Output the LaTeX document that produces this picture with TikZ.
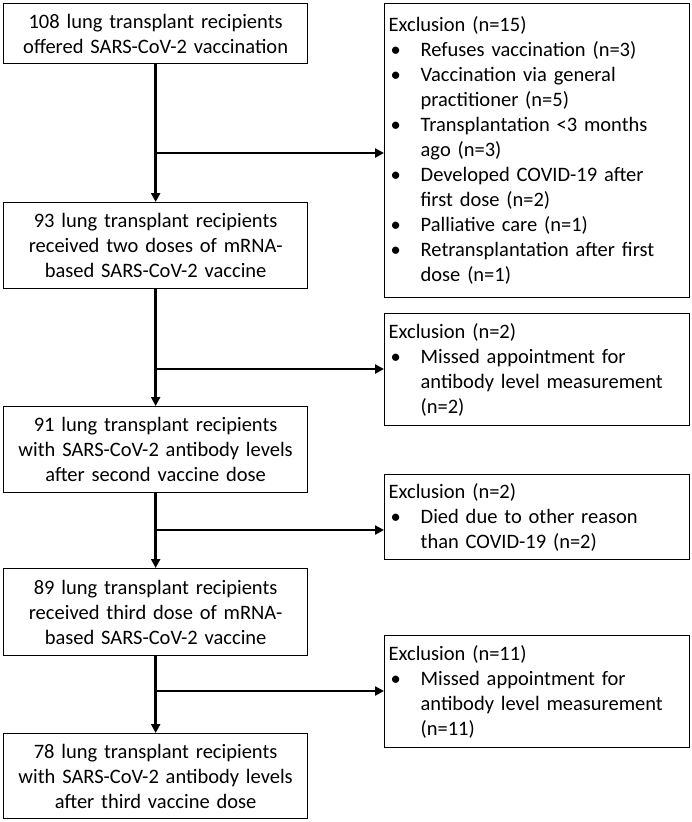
\documentclass[tikz,border=0pt]{standalone}
\usepackage{fontspec}
\setmainfont{Carlito}
\usetikzlibrary{arrows.meta}

\tikzset{
  stagebox/.style={draw, line width=1.3pt, anchor=north west, minimum width=304pt,
    text width=296pt, align=center, inner sep=4pt, font=\fontsize{20.5}{25}\selectfont},
  exclbox/.style={draw, line width=1.3pt, anchor=north west, minimum width=305pt,
    text width=297pt, align=left, inner sep=4pt, font=\fontsize{20.5}{25}\selectfont},
  flow/.style={line width=2.4pt, -{Triangle[length=9pt,width=9pt]}},
}
\newcommand{\exitem}[1]{\par\hangindent=32pt\hangafter=1\noindent\makebox[32pt][l]{\hspace{2pt}\textbullet}#1\par}

\begin{document}
\begin{tikzpicture}[x=1pt,y=-1pt]
\useasboundingbox (0,0) rectangle (692,822);

% main flow
\node (s1) at (3,3) [stagebox,minimum height=60pt] {108 lung transplant recipients\\offered SARS-CoV-2 vaccination};
\node (s2) at (3,202) [stagebox,minimum height=86pt] {93 lung transplant recipients\\received two doses of mRNA-\\based SARS-CoV-2 vaccine};
\node (s3) at (3,406) [stagebox,minimum height=86pt] {91 lung transplant recipients\\with SARS-CoV-2 antibody levels\\after second vaccine dose};
\node (s4) at (3,568) [stagebox,minimum height=87pt] {89 lung transplant recipients\\received third dose of mRNA-\\based SARS-CoV-2 vaccine};
\node (s5) at (3,733) [stagebox,minimum height=85pt] {78 lung transplant recipients\\with SARS-CoV-2 antibody levels\\after third vaccine dose};

% exclusions
\node (x1) at (384,3) [exclbox,minimum height=294pt] {Exclusion (n=15)
  \exitem{Refuses vaccination (n=3)}
  \exitem{Vaccination via general\newline practitioner (n=5)}
  \exitem{Transplantation <3 months\newline ago (n=3)}
  \exitem{Developed COVID-19 after\newline first dose (n=2)}
  \exitem{Palliative care (n=1)}
  \exitem{Retransplantation after first\newline dose (n=1)}};
\node (x2) at (384,313) [exclbox,minimum height=112pt] {Exclusion (n=2)
  \exitem{Missed appointment for\newline antibody level measurement\newline (n=2)}};
\node (x3) at (384,474) [exclbox,minimum height=85pt] {Exclusion (n=2)
  \exitem{Died due to other reason\newline than COVID-19 (n=2)}};
\node (x4) at (384,635) [exclbox,minimum height=112pt] {Exclusion (n=11)
  \exitem{Missed appointment for\newline antibody level measurement\newline (n=11)}};

\coordinate (j1) at (155,153);
\coordinate (j2) at (155,369);
\coordinate (j3) at (155,530);
\coordinate (j4) at (155,691);

\draw[flow] (s1) -- (s2);
\draw[flow] (s2) -- (s3);
\draw[flow] (s3) -- (s4);
\draw[flow] (s4) -- (s5);
\draw[flow] (j1) -- (j1 -| x1.west);
\draw[flow] (j2) -- (j2 -| x2.west);
\draw[flow] (j3) -- (j3 -| x3.west);
\draw[flow] (j4) -- (j4 -| x4.west);
\end{tikzpicture}
\end{document}
